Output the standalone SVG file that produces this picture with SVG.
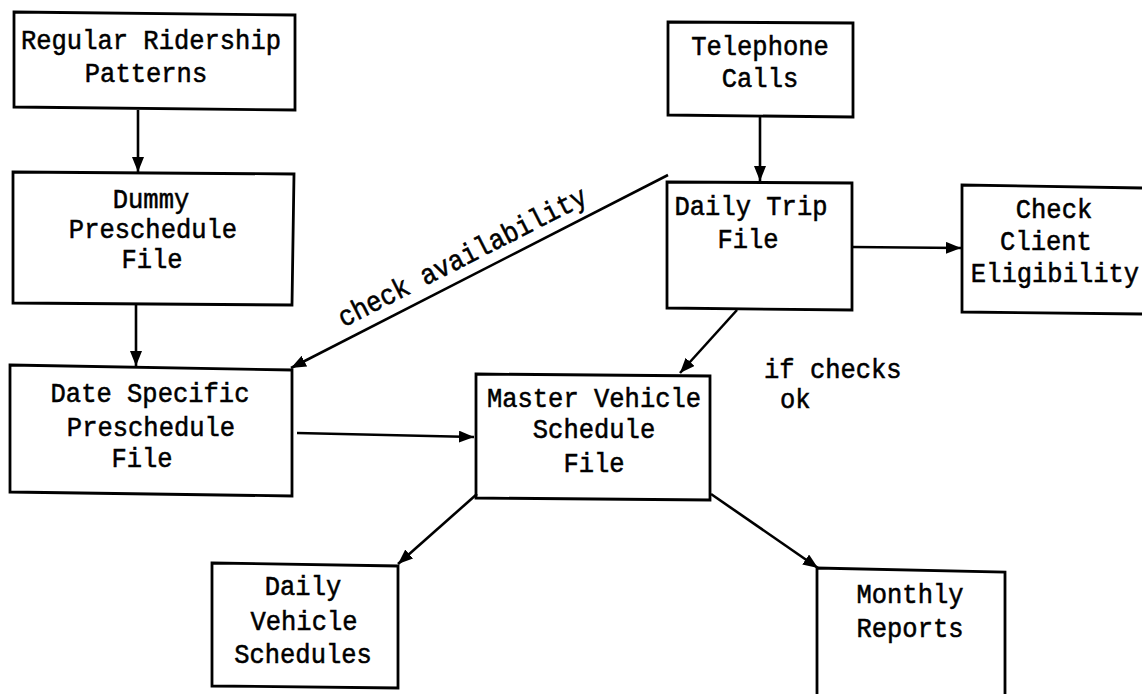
<svg xmlns="http://www.w3.org/2000/svg" width="1142" height="696" viewBox="0 0 1142 696">
<style>
.box{fill:none;stroke:#000;stroke-width:2.8;stroke-linejoin:miter}
.edge{fill:none;stroke:#000;stroke-width:2.6}
.t{font-family:"Liberation Mono","DejaVu Sans Mono",monospace;font-size:25.5px;fill:#000;stroke:#000;stroke-width:0.5;text-anchor:middle}
.ts{text-anchor:start}
</style>
<defs>
<marker id="ah" markerUnits="userSpaceOnUse" markerWidth="18" markerHeight="14" refX="15" refY="6" orient="auto">
<path d="M0,0 L15,6 L0,12 Z" fill="#000"/>
</marker>
</defs>
<rect width="1142" height="696" fill="#fff"/>
<g id="connectors">
<line class="edge" x1="138" y1="110" x2="138" y2="172" marker-end="url(#ah)"/>
<line class="edge" x1="136" y1="305" x2="136" y2="366" marker-end="url(#ah)"/>
<line class="edge" x1="297" y1="433" x2="474" y2="437" marker-end="url(#ah)"/>
<line class="edge" x1="760" y1="117" x2="760" y2="181" marker-end="url(#ah)"/>
<line class="edge" x1="852" y1="247" x2="961" y2="248" marker-end="url(#ah)"/>
<line class="edge" x1="668" y1="175" x2="291" y2="368" marker-end="url(#ah)"/>
<line class="edge" x1="737" y1="310" x2="680" y2="373" marker-end="url(#ah)"/>
<line class="edge" x1="477" y1="494" x2="398" y2="564" marker-end="url(#ah)"/>
<line class="edge" x1="711" y1="494" x2="818" y2="568" marker-end="url(#ah)"/>
<text class="t" transform="translate(466.5 265) rotate(-27) scale(1 1.12)">check availability</text>
<text class="t ts" transform="translate(764 378) scale(1 1.12)">if checks</text>
<text class="t ts" transform="translate(780 408) scale(1 1.12)">ok</text>
</g>
<g id="regular-ridership">
<path class="box" d="M14,12 L295,15 L295,110 L14,107 Z"/>
<text class="t" transform="translate(151 49) scale(1 1.12)">Regular Ridership</text>
<text class="t" transform="translate(146 82) scale(1 1.12)">Patterns</text>
</g>
<g id="dummy-preschedule">
<path class="box" d="M13,172 L294,174 L292,305 L13,303 Z"/>
<text class="t" transform="translate(151 208) scale(1 1.12)">Dummy</text>
<text class="t" transform="translate(153 238) scale(1 1.12)">Preschedule</text>
<text class="t" transform="translate(152 268) scale(1 1.12)">File</text>
</g>
<g id="date-specific">
<path class="box" d="M10,365 L292,370 L292,496 L10,492 Z"/>
<text class="t" transform="translate(150 402) scale(1 1.12)">Date Specific</text>
<text class="t" transform="translate(151 436) scale(1 1.12)">Preschedule</text>
<text class="t" transform="translate(142 467) scale(1 1.12)">File</text>
</g>
<g id="master-vehicle">
<path class="box" d="M476,374 L710,376 L710,500 L476,498 Z"/>
<text class="t" transform="translate(594 407) scale(1 1.12)">Master Vehicle</text>
<text class="t" transform="translate(594 438) scale(1 1.12)">Schedule</text>
<text class="t" transform="translate(594 472) scale(1 1.12)">File</text>
</g>
<g id="telephone-calls">
<path class="box" d="M668,22 L853,23 L853,117 L668,115 Z"/>
<text class="t" transform="translate(760 55) scale(1 1.12)">Telephone</text>
<text class="t" transform="translate(760 87) scale(1 1.12)">Calls</text>
</g>
<g id="daily-trip">
<path class="box" d="M667,182 L852,183 L852,310 L667,308 Z"/>
<text class="t" transform="translate(751 215) scale(1 1.12)">Daily Trip</text>
<text class="t" transform="translate(748 248) scale(1 1.12)">File</text>
</g>
<g id="check-client">
<path class="box" d="M1142,188 L962,185 L962,312 L1142,314"/>
<text class="t" transform="translate(1054 218) scale(1 1.12)">Check</text>
<text class="t" transform="translate(1046 250) scale(1 1.12)">Client</text>
<text class="t" transform="translate(1055 282) scale(1 1.12)">Eligibility</text>
</g>
<g id="daily-vehicle">
<path class="box" d="M212,563 L398,566 L398,688 L212,686 Z"/>
<text class="t" transform="translate(303 595) scale(1 1.12)">Daily</text>
<text class="t" transform="translate(304 630) scale(1 1.12)">Vehicle</text>
<text class="t" transform="translate(303 663) scale(1 1.12)">Schedules</text>
</g>
<g id="monthly-reports">
<path class="box" d="M817,694 L817,568 L1005,572 L1005,694"/>
<text class="t" transform="translate(910 603) scale(1 1.12)">Monthly</text>
<text class="t" transform="translate(910 637) scale(1 1.12)">Reports</text>
</g>
</svg>
